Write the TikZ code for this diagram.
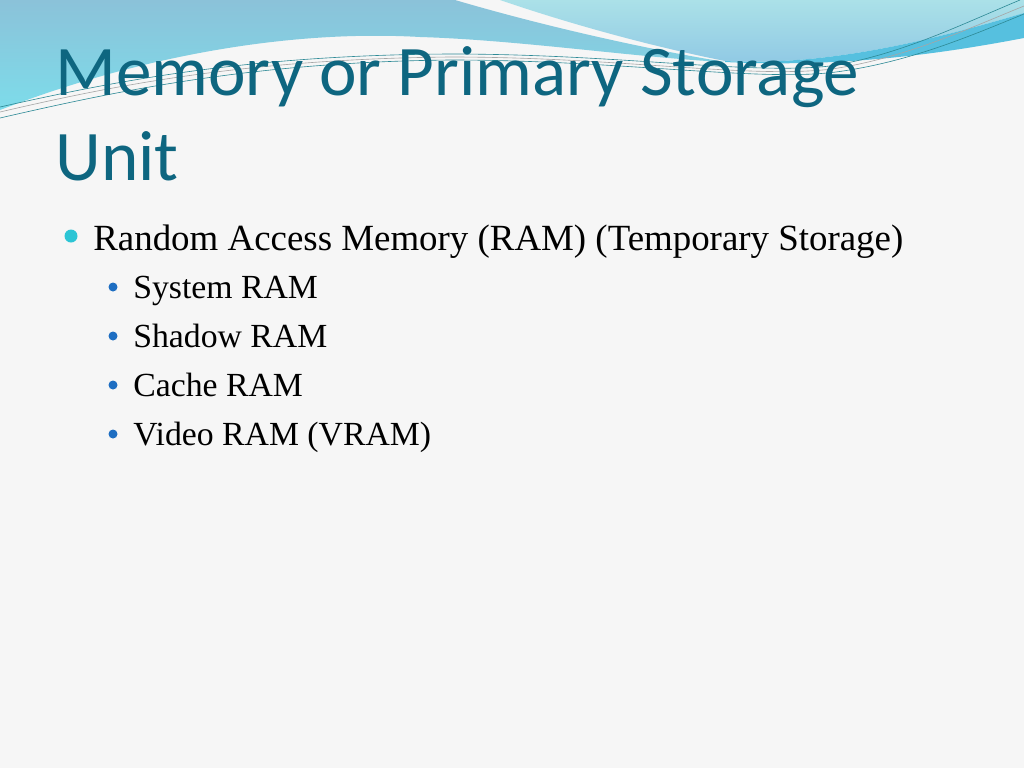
\documentclass[tikz,border=0pt]{standalone}
\usepackage{fontspec}
\setmainfont{Liberation Serif}
\newfontfamily\titlefont{Carlito}
\usepackage{tikz}
\definecolor{slidebg}{HTML}{F6F6F6}
\definecolor{titleteal}{HTML}{0E6680}
\definecolor{waveblue}{HTML}{8BC2D9}
\definecolor{wavecyan}{HTML}{7DDCEA}
\definecolor{lenstop}{HTML}{ABE1E8}
\definecolor{lensbot}{HTML}{8FC8E4}
\definecolor{bandcyan}{HTML}{56C0DF}
\definecolor{threadteal}{HTML}{2E8A96}
\definecolor{dotcyan}{HTML}{2CC5D5}
\definecolor{dotblue}{HTML}{1E6EC2}

\begin{document}
\begin{tikzpicture}
  [x=0.02cm,y=-0.02cm,
   title/.style={anchor=base west,inner sep=0pt,text=titleteal,font=\titlefont\fontsize{40.5}{48}\selectfont},
   item/.style={anchor=base west,inner sep=0pt,font=\fontsize{21}{25}\selectfont},
   subitem/.style={anchor=base west,inner sep=0pt,font=\fontsize{19.2}{23}\selectfont},
   thread/.style={draw=threadteal,line width=0.35pt}]
  \useasboundingbox (0,0) rectangle (1024,768);
  \fill[slidebg] (0,0) rectangle (1024,768);
  % top waves
  \shade[top color=waveblue,bottom color=wavecyan]
    (0,0) -- (455,0) .. controls (540,25) and (640,48) .. (725,62)
    .. controls (640,58) and (520,40) .. (420,37)
    .. controls (300,30) and (150,52) .. (0,110) -- cycle;
  \shade[top color=lenstop,bottom color=lensbot]
    (500,0) .. controls (570,24) and (650,46) .. (725,61)
    .. controls (820,66) and (920,44) .. (1024,13) -- (1024,0) -- cycle;
  \fill[bandcyan] (725,61) .. controls (820,66) and (920,44) .. (1024,13)
    -- (1024,38) .. controls (950,52) and (850,68) .. (725,62) -- cycle;
  \draw[thread] (0,107) .. controls (120,80) and (250,55) .. (450,54)
    .. controls (620,54) and (750,75) .. (830,66) .. controls (900,55) and (960,25) .. (1020,0);
  \draw[thread,draw=gray!70] (0,112) .. controls (120,84) and (250,59) .. (450,57)
    .. controls (620,57) and (750,79) .. (832,69) .. controls (905,58) and (965,30) .. (1024,6);
  \draw[thread] (0,118) .. controls (130,88) and (260,62) .. (450,60)
    .. controls (620,60) and (760,82) .. (836,72) .. controls (910,62) and (970,36) .. (1024,14);
  % title
  \node[title] (t1) at (55,95) {Memory or Primary Storage};
  \node[title] (t2) at (55,180) {Unit};
  % bullets
  \fill[dotcyan] (71,236) circle (6.5);
  \node[item] (ram) at (93,250) {Random Access Memory (RAM) (Temporary Storage)};
  \foreach \y/\name/\txt in {298/sys/System RAM,347/shd/Shadow RAM,396/cch/Cache RAM,445/vid/Video RAM (VRAM)}
  {
    \fill[dotblue] (113,\y-11) circle (4.5);
    \node[subitem] (\name) at (133,\y) {\txt};
  }
\end{tikzpicture}
\end{document}
